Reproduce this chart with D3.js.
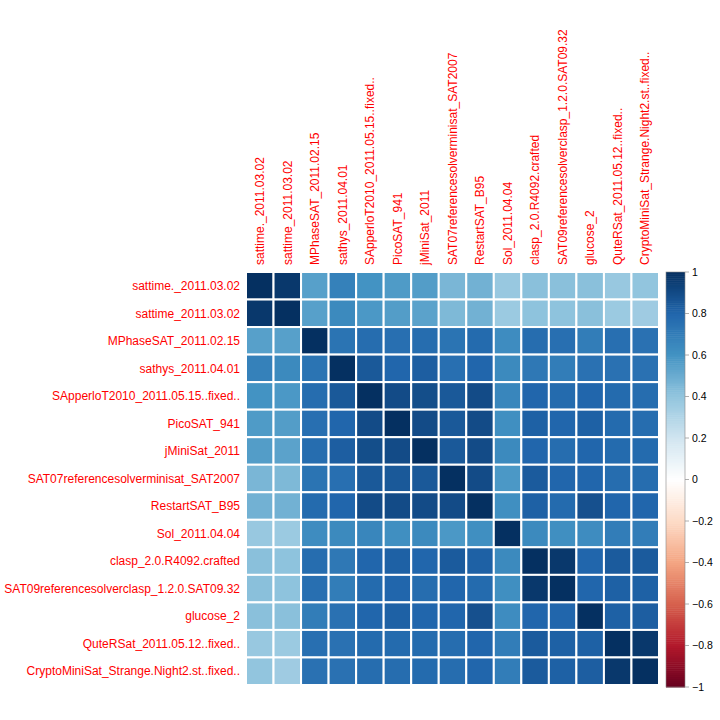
<!DOCTYPE html>
<html><head><meta charset="utf-8">
<script src="https://cdn.jsdelivr.net/npm/d3@7"></script>
<style>body{margin:0;background:#fff}svg{display:block}text{font-family:Arial,"Liberation Sans",sans-serif}</style>
</head><body><div id="chart"></div>
<script>
const labels = ["sattime._2011.03.02","sattime_2011.03.02","MPhaseSAT_2011.02.15","sathys_2011.04.01",
"SApperloT2010_2011.05.15..fixed..","PicoSAT_941","jMiniSat_2011","SAT07referencesolverminisat_SAT2007",
"RestartSAT_B95","Sol_2011.04.04","clasp_2.0.R4092.crafted","SAT09referencesolverclasp_1.2.0.SAT09.32",
"glucose_2","QuteRSat_2011.05.12..fixed..","CryptoMiniSat_Strange.Night2.st..fixed.."];

const matrix = [
[1.00,0.97,0.55,0.68,0.60,0.57,0.56,0.46,0.48,0.38,0.42,0.42,0.42,0.38,0.40],
[0.97,1.00,0.55,0.64,0.58,0.56,0.54,0.45,0.48,0.37,0.41,0.41,0.42,0.37,0.36],
[0.55,0.55,1.00,0.74,0.77,0.76,0.77,0.74,0.78,0.63,0.77,0.76,0.70,0.76,0.75],
[0.68,0.64,0.74,1.00,0.85,0.80,0.83,0.76,0.80,0.64,0.72,0.70,0.75,0.75,0.75],
[0.60,0.58,0.77,0.85,1.00,0.90,0.89,0.85,0.90,0.66,0.80,0.78,0.80,0.78,0.77],
[0.57,0.56,0.76,0.80,0.90,1.00,0.90,0.85,0.90,0.62,0.82,0.80,0.82,0.78,0.77],
[0.56,0.54,0.77,0.83,0.89,0.90,1.00,0.85,0.90,0.64,0.80,0.77,0.80,0.78,0.78],
[0.46,0.45,0.74,0.76,0.85,0.85,0.85,1.00,0.90,0.58,0.84,0.80,0.80,0.77,0.77],
[0.48,0.48,0.78,0.80,0.90,0.90,0.90,0.90,1.00,0.62,0.82,0.78,0.88,0.80,0.80],
[0.38,0.37,0.63,0.64,0.66,0.62,0.64,0.58,0.62,1.00,0.64,0.62,0.63,0.70,0.70],
[0.42,0.41,0.77,0.72,0.80,0.82,0.80,0.84,0.82,0.64,1.00,0.97,0.80,0.84,0.84],
[0.42,0.41,0.76,0.70,0.78,0.80,0.77,0.80,0.78,0.62,0.97,1.00,0.80,0.82,0.82],
[0.42,0.42,0.70,0.75,0.80,0.82,0.80,0.80,0.88,0.63,0.80,0.80,1.00,0.82,0.83],
[0.38,0.37,0.76,0.75,0.78,0.78,0.78,0.77,0.80,0.70,0.84,0.82,0.82,1.00,0.97],
[0.40,0.36,0.75,0.75,0.77,0.77,0.78,0.77,0.80,0.70,0.84,0.82,0.83,0.97,1.00]];

const legendTicks = [1,0.8,0.6,0.4,0.2,0,-0.2,-0.4,-0.6,-0.8,-1];
const paletteStops = ["#67001F","#B2182B","#D6604D","#F4A582","#FDDBC7","#FFFFFF","#D1E5F0","#92C5DE","#4393C3","#2166AC","#053061"];

const W = 720, H = 720;
const svg = d3.select("#chart").append("svg").attr("width", W).attr("height", H);

const gx0 = 246, gy0 = 272, gsize = 413;
const x = d3.scaleBand().domain(d3.range(labels.length)).range([gx0, gx0 + gsize]);
const y = d3.scaleBand().domain(d3.range(labels.length)).range([gy0, gy0 + gsize]);
const color = d3.scaleLinear().domain(d3.range(-1, 1.0001, 0.2)).range(paletteStops).clamp(true);

const cells = [];
matrix.forEach((row, i) => row.forEach((v, j) => cells.push({i, j, v})));

svg.append("g").selectAll("rect").data(cells).join("rect")
  .attr("x", d => x(d.j)).attr("y", d => y(d.i))
  .attr("width", x.bandwidth()).attr("height", y.bandwidth())
  .attr("fill", d => color(d.v))
  .attr("stroke", "#fff").attr("stroke-width", 2);

// row labels
svg.append("g").selectAll("text").data(labels).join("text")
  .attr("x", gx0 - 6).attr("y", (d, i) => y(i) + y.bandwidth() / 2)
  .attr("dy", "0.35em").attr("text-anchor", "end")
  .attr("fill", "#FF0000").attr("font-size", 12).text(d => d);

// column labels
svg.append("g").selectAll("text").data(labels).join("text")
  .attr("transform", (d, i) => `translate(${x(i) + x.bandwidth() / 2},${gy0 - 7}) rotate(-90)`)
  .attr("dy", "0.35em").attr("text-anchor", "start")
  .attr("fill", "#FF0000").attr("font-size", 12).text(d => d);

// color legend
const lx = 666, lw = 19;
const ly = d3.scaleLinear().domain([1, -1]).range([gy0, gy0 + gsize + 2]);
const nSteps = 200;
const steps = d3.range(nSteps).map(k => -1 + (k + 0.5) * 2 / nSteps);
svg.append("g").selectAll("rect").data(steps).join("rect")
  .attr("x", lx).attr("width", lw)
  .attr("y", d => ly(d + 1 / nSteps)).attr("height", ly(0) - ly(2 / nSteps) + 0.5)
  .attr("fill", d => color(d));
svg.append("rect").attr("x", lx).attr("y", ly(1)).attr("width", lw).attr("height", ly(-1) - ly(1))
  .attr("fill", "none").attr("stroke", "#888").attr("stroke-width", 0.6);

const tg = svg.append("g").selectAll("g").data(legendTicks).join("g")
  .attr("transform", d => `translate(${lx + lw},${ly(d)})`);
tg.append("line").attr("x1", 0).attr("x2", 4).attr("stroke", "#999").attr("stroke-width", 0.8);
tg.append("text").attr("x", 7).attr("dy", "0.35em").attr("font-size", 10.5).attr("fill", "#000")
  .text(d => d3.format("")(Math.round(d * 10) / 10));
</script></body></html>
